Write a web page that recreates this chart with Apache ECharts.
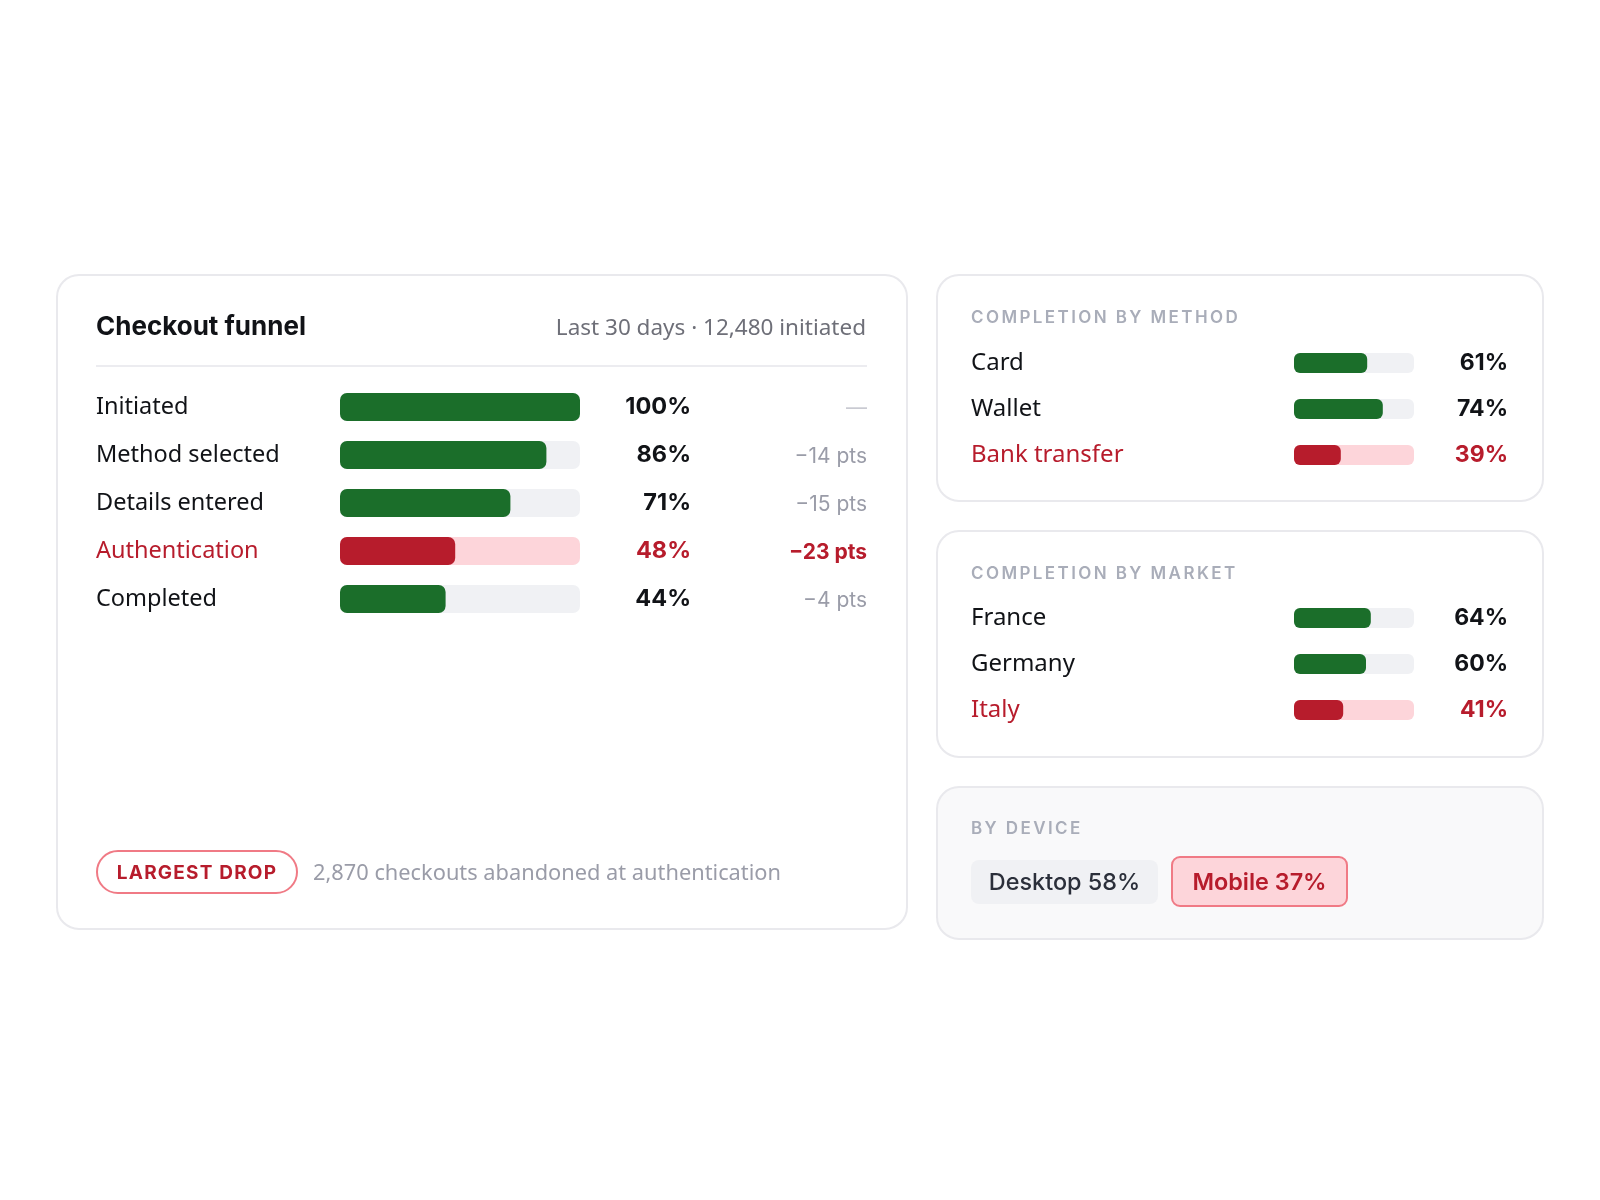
<!DOCTYPE html>
<html>
<head>
<meta charset="utf-8">
<script src="https://cdn.jsdelivr.net/npm/echarts@6/dist/echarts.min.js"></script>
<style>html,body{margin:0;padding:0;background:#fff}#c{width:1600px;height:1200px}</style>
</head>
<body>
<div id="c"></div>
<script>
// ---- data ----
var funnelSteps = ['Initiated', 'Method selected', 'Details entered', 'Authentication', 'Completed'];
var funnelPct = [100, 86, 71, 48, 44];
var funnelDelta = ['—', '−14 pts', '−15 pts', '−23 pts', '−4 pts'];
var funnelAlert = [false, false, false, true, false];

var methods = ['Card', 'Wallet', 'Bank transfer'];
var methodPct = [61, 74, 39];
var methodAlert = [false, false, true];

var markets = ['France', 'Germany', 'Italy'];
var marketPct = [64, 60, 41];
var marketAlert = [false, false, true];

var devices = ['Desktop', 'Mobile'];
var devicePct = [58, 37];
var deviceAlert = [false, true];

var titleText = 'Checkout funnel';
var subtitleText = 'Last 30 days · 12,480 initiated';
var dropBadge = 'LARGEST DROP';
var dropNote = '2,870 checkouts abandoned at authentication';
var methodHeader = 'COMPLETION BY METHOD';
var marketHeader = 'COMPLETION BY MARKET';
var deviceHeader = 'BY DEVICE';

// ---- letter spacing for the small-caps headers (canvas letterSpacing) ----
var spacedText = {};
spacedText[methodHeader] = '2.4px';
spacedText[marketHeader] = '2.4px';
spacedText[deviceHeader] = '2.4px';
spacedText[dropBadge] = '1.2px';
(function () {
  var proto = CanvasRenderingContext2D.prototype;
  var orig = proto.fillText;
  proto.fillText = function (t, x, y, mw) {
    if (spacedText[t] && 'letterSpacing' in this) {
      var f = this.font;
      this.save();
      this.letterSpacing = spacedText[t];
      this.font = f;
      var r = mw === undefined ? orig.call(this, t, x, y) : orig.call(this, t, x, y, mw);
      this.restore();
      this.letterSpacing = '0px';
      this.font = '10px sans-serif';
      this.font = f;
      return r;
    }
    return mw === undefined ? orig.call(this, t, x, y) : orig.call(this, t, x, y, mw);
  };
})();

// ---- styles ----
var GREEN = '#1b6e2a', RED = '#b71c2c', TRACK = '#f0f1f4', RED_TRACK = '#fdd5da';
var INK = '#111317', GRAY = '#9a9ca8', HEAD = '#a9adb9';
var LABEL_FONT = "'Noto Sans', sans-serif";
var NUM_FONT = "Inter, 'Noto Sans', sans-serif";

var chart = echarts.init(document.getElementById('c'), null, {renderer: 'canvas'});

function buildGrid(idx, cats, vals, alerts, cfg) {
  var xAxis = {gridIndex: idx, type: 'value', min: 0, max: 100, show: false};
  var yAxes = [{
    gridIndex: idx, type: 'category', data: cats, inverse: true,
    axisLine: {show: false}, axisTick: {show: false}, splitLine: {show: false},
    axisLabel: {
      margin: cfg.labelMargin, align: 'left', fontFamily: LABEL_FONT, fontSize: cfg.labelSize,
      padding: [5, 0, 0, 0],
      color: function (v, i) { return alerts[i] ? RED : INK; }
    }
  }];
  var track = {
    type: 'bar', xAxisIndex: idx, yAxisIndex: cfg.yBase, barWidth: cfg.barH, silent: true,
    data: vals.map(function (v, i) {
      return {value: 100, itemStyle: {color: alerts[i] ? RED_TRACK : TRACK, borderRadius: cfg.radius},
        label: {color: alerts[i] ? RED : INK}};
    }),
    label: {
      show: true, position: [cfg.valueX, '50%'], align: 'right', verticalAlign: 'middle',
      fontFamily: NUM_FONT, fontWeight: 700, fontSize: cfg.valueSize, padding: [5, 0, 0, 0],
      formatter: function (p) { return vals[p.dataIndex] + '%'; },
      color: INK
    },
    z: 2
  };
  var fill = {
    type: 'bar', xAxisIndex: idx, yAxisIndex: cfg.yBase, barWidth: cfg.barH, barGap: '-100%', silent: true,
    data: vals.map(function (v, i) {
      return {value: v, itemStyle: {color: alerts[i] ? RED : GREEN, borderRadius: cfg.radius}};
    }),
    z: 3
  };
  return {xAxis: xAxis, yAxes: yAxes, series: [track, fill]};
}

var g0 = buildGrid(0, funnelSteps, funnelPct, funnelAlert,
  {labelMargin: 244, labelSize: 23.5, barH: 28, radius: 7, valueX: 351, valueSize: 23.5, yBase: 0});
// delta column as a right-hand category axis
g0.yAxes.push({
  gridIndex: 0, type: 'category', data: funnelSteps, inverse: true, position: 'right',
  axisLine: {show: false}, axisTick: {show: false}, splitLine: {show: false},
  axisLabel: {
    margin: 287, align: 'right', fontFamily: NUM_FONT, fontSize: 21, padding: [3, 0, 0, 0],
    formatter: function (v, i) { return funnelAlert[i] ? '{b|' + funnelDelta[i] + '}' : funnelDelta[i]; },
    color: function (v, i) { return funnelAlert[i] ? RED : (i === 0 ? '#c9cad2' : GRAY); },
    rich: {b: {fontFamily: NUM_FONT, fontSize: 21, fontWeight: 700, color: RED}}
  }
});
var g1 = buildGrid(1, methods, methodPct, methodAlert,
  {labelMargin: 323, labelSize: 24, barH: 20, radius: 6, valueX: 214, valueSize: 23, yBase: 2});
var g2 = buildGrid(2, markets, marketPct, marketAlert,
  {labelMargin: 323, labelSize: 24, barH: 20, radius: 6, valueX: 214, valueSize: 23, yBase: 3});

function card(x, y, w, h, fill) {
  return {type: 'rect', z: -10, shape: {x: x, y: y, width: w, height: h, r: 22},
    style: {fill: fill || '#ffffff', stroke: '#e9e9ed', lineWidth: 2}};
}
function txt(x, y, text, o) {
  o = o || {};
  return {type: 'text', z: 10, x: x, y: y, style: {
    text: text, fill: o.color || INK, fontSize: o.size || 22, fontWeight: o.weight || 400,
    fontFamily: o.family || LABEL_FONT, textAlign: o.align || 'left', textVerticalAlign: 'middle'
  }};
}

var graphics = [
  card(57, 275, 850, 654),
  card(937, 275, 606, 226),
  card(937, 531, 606, 226),
  card(937, 787, 606, 152, '#f9f9fa'),
  txt(96, 327, titleText, {size: 26, weight: 700, family: NUM_FONT}),
  txt(866, 329, subtitleText, {size: 22.5, color: '#6e6f78', align: 'right'}),
  {type: 'rect', z: 5, shape: {x: 96, y: 365, width: 771, height: 2}, style: {fill: '#ececf0'}},
  {type: 'rect', z: 5, shape: {x: 97, y: 851, width: 200, height: 42, r: 21}, style: {fill: '#fff', stroke: '#f07a85', lineWidth: 2}},
  txt(197, 873, dropBadge, {size: 19, weight: 700, color: RED, family: NUM_FONT, align: 'center'}),
  txt(313, 874, dropNote, {size: 21.8, color: GRAY}),
  txt(971, 318, methodHeader, {size: 17, weight: 600, color: HEAD, family: NUM_FONT}),
  txt(971, 574, marketHeader, {size: 17, weight: 600, color: HEAD, family: NUM_FONT}),
  txt(971, 829, deviceHeader, {size: 17, weight: 600, color: HEAD, family: NUM_FONT})
];
// device pills
var pillX = 971;
var pillW = [187, 175];
devices.forEach(function (d, i) {
  var alert = deviceAlert[i];
  var h = alert ? 49 : 44, y = alert ? 857 : 860;
  graphics.push({type: 'rect', z: 5, shape: {x: pillX, y: y, width: pillW[i], height: h, r: 8},
    style: alert ? {fill: RED_TRACK, stroke: '#f07a85', lineWidth: 2} : {fill: TRACK}});
  graphics.push(txt(pillX + pillW[i] / 2, 883, d + ' ' + devicePct[i] + '%',
    {size: 23.4, weight: alert ? 600 : 500, color: alert ? RED : '#2b2f3a', family: NUM_FONT, align: 'center'}));
  pillX += pillW[i] + 14;
});

chart.setOption({
  animation: false,
  backgroundColor: '#ffffff',
  grid: [
    {left: 340, top: 383, width: 240, height: 240},
    {left: 1294, top: 340, width: 120, height: 138},
    {left: 1294, top: 595, width: 120, height: 138}
  ],
  xAxis: [g0.xAxis, g1.xAxis, g2.xAxis],
  yAxis: g0.yAxes.concat(g1.yAxes, g2.yAxes),
  series: g0.series.concat(g1.series, g2.series),
  graphic: graphics
});
</script>
</body>
</html>
